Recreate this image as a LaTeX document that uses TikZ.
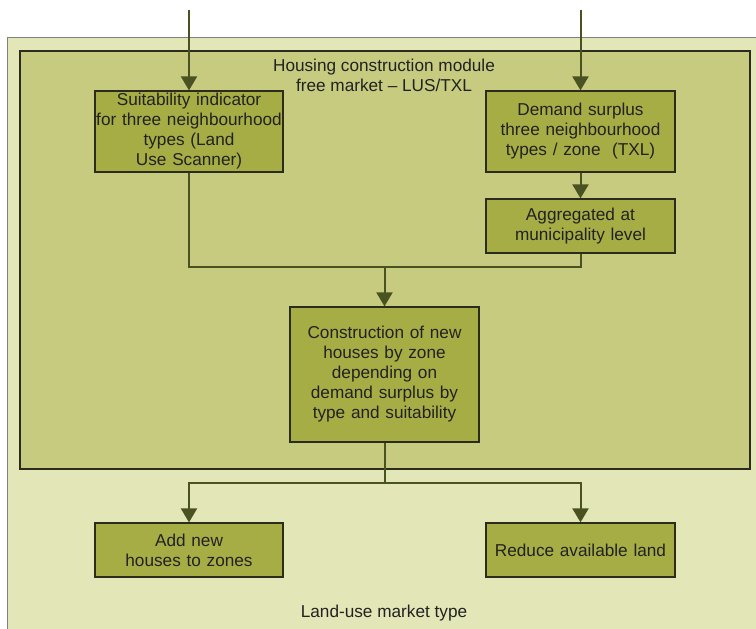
\documentclass[tikz,border=0pt]{standalone}
\usepackage{fontspec}
\setmainfont{Liberation Sans}
\usepackage{xcolor}
\usepackage{tikz}
\usetikzlibrary{calc}
\usetikzlibrary{arrows.meta}

\definecolor{marketfill}{HTML}{E3E6B6}
\definecolor{modulefill}{HTML}{C6CB7F}
\definecolor{boxfill}{HTML}{A6AD45}
\definecolor{flowcol}{HTML}{4A5222}
\definecolor{edgecol}{HTML}{2B2B1E}
\definecolor{textcol}{HTML}{222222}

\tikzset{
	stepbox/.style={draw=edgecol,line width=1.2pt,fill=boxfill,text=textcol,
		inner sep=0pt,align=center,font=\fontsize{17.2}{20}\selectfont},
	flowline/.style={draw=flowcol,line width=2pt},
	flow/.style={flowline,-{Triangle[length=14pt,width=16pt]}},
	caption/.style={text=textcol,align=center,font=\fontsize{17.2}{20}\selectfont}
}

\begin{document}
\begin{tikzpicture}[x=1pt,y=-1pt]
	\useasboundingbox (0,0) rectangle (756,629);
	% land-use market, cut off at right and bottom
	\fill[marketfill] (7,37) rectangle (756,629);
	\draw[color=gray,line width=1pt] (7,629) -- (7,37) -- (756,37);% left and top edge
	% housing construction module
	\draw[fill=modulefill,draw=edgecol,line width=1.2pt] (20,51) rectangle (750,469);
	\node[caption] (title) at (384,75) {Housing construction module\\free market -- LUS/TXL};
	\node[caption] (market) at (384,613) {Land-use market type};
	% boxes
	\node[stepbox,minimum width=188pt,minimum height=81pt,text width=186pt] (suit) at (189,131.5)
		{Suitability indicator\\for three neighbourhood\\types (Land\\Use Scanner)};
	\node[stepbox,minimum width=189pt,minimum height=81pt,text width=187pt] (dem) at (580.5,131.5)
		{Demand surplus\\three neighbourhood\\types / zone~~(TXL)};
	\node[stepbox,minimum width=189pt,minimum height=54pt,text width=187pt] (agg) at (580.5,226)
		{Aggregated at\\municipality level};
	\node[stepbox,minimum width=189pt,minimum height=135pt,text width=187pt] (cons) at (384.5,374.5)
		{Construction of new\\houses by zone\\depending on\\demand surplus by\\type and suitability};
	\node[stepbox,minimum width=188pt,minimum height=54pt,text width=186pt] (add) at (189,550)
		{Add new\\houses to zones};
	\node[stepbox,minimum width=189pt,minimum height=54pt,text width=187pt] (red) at (580.5,550)
		{Reduce available land};
	% inputs from above
	\coordinate (inS) at (189,10);
	\coordinate (inD) at (580.5,10);
	\coordinate (merge) at (384.5,267);
	\coordinate (split) at (384.5,483);
	\draw[flow] (inS) -- (suit);
	\draw[flow] (inD) -- (dem);
	\draw[flow] (dem) -- (agg);
	\draw[flowline] (suit) |- (merge) -| (agg);% join of both branches
	\draw[flow] (merge) -- (cons);
	\draw[flowline] (cons) -- (split);
	\draw[flow] (split) -| (add);
	\draw[flow] (split) -| (red);
\end{tikzpicture}
\end{document}
